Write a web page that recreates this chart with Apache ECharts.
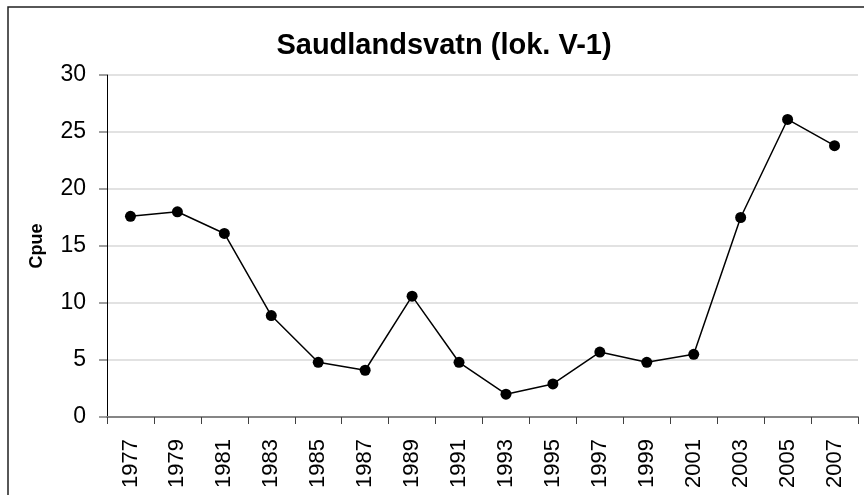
<!DOCTYPE html>
<html>
<head>
<meta charset="utf-8">
<script src="https://cdn.jsdelivr.net/npm/echarts@6/dist/echarts.min.js"></script>
<style>
  html, body { margin: 0; padding: 0; background: #ffffff; }
  #chart { width: 864px; height: 495px; }
</style>
</head>
<body>
<div id="chart"></div>
<script>
// Catch per unit effort, Saudlandsvatn station V-1
const years = ['1977', '1979', '1981', '1983', '1985', '1987', '1989', '1991',
               '1993', '1995', '1997', '1999', '2001', '2003', '2005', '2007'];
const cpue = [17.6, 18.0, 16.1, 8.9, 4.8, 4.1, 10.6, 4.8,
              2.0, 2.9, 5.7, 4.8, 5.5, 17.5, 26.1, 23.8];

const FONT = '"Liberation Sans", Arial, sans-serif';

const chart = echarts.init(document.getElementById('chart'), null, { renderer: 'canvas' });

chart.setOption({
  animation: false,
  backgroundColor: '#ffffff',
  title: {
    text: 'Saudlandsvatn (lok. V-1)',
    left: 439,
    textAlign: 'center',
    top: 26,
    textStyle: { fontFamily: FONT, fontWeight: 'bold', fontSize: 29, color: '#000000' }
  },
  graphic: [{
    type: 'rect',
    shape: { x: 8, y: 7, width: 900, height: 520 },
    style: { fill: 'none', stroke: '#202020', lineWidth: 1.5 },
    silent: true,
    z: -1
  }],
  grid: { left: 107, right: 6, top: 75, bottom: 78, containLabel: false },
  xAxis: {
    type: 'category',
    data: years,
    boundaryGap: true,
    axisLine: { show: true, lineStyle: { color: '#868686', width: 2 } },
    axisTick: { show: true, length: 7, lineStyle: { color: '#404040', width: 1 } },
    axisLabel: {
      rotate: 90, interval: 0, margin: 22,
      fontFamily: FONT, fontSize: 22, color: '#000000'
    },
    splitLine: { show: false }
  },
  yAxis: {
    type: 'value',
    min: 0, max: 30, interval: 5,
    name: 'Cpue',
    nameLocation: 'middle',
    nameGap: 61,
    nameRotate: 90,
    nameTextStyle: { fontFamily: FONT, fontWeight: 'bold', fontSize: 18, color: '#000000' },
    axisLine: { show: true, lineStyle: { color: '#000000', width: 1 } },
    axisTick: { show: true, length: 8, lineStyle: { color: '#808080', width: 1.5 } },
    axisLabel: { margin: 21, fontFamily: FONT, fontSize: 23, color: '#000000' },
    splitLine: { show: true, lineStyle: { color: '#d9d9d9', width: 1.5 } }
  },
  series: [{
    type: 'line',
    data: cpue,
    symbol: 'circle',
    symbolSize: 11,
    itemStyle: { color: '#000000' },
    lineStyle: { color: '#000000', width: 1.5 }
  }]
});
</script>
</body>
</html>
